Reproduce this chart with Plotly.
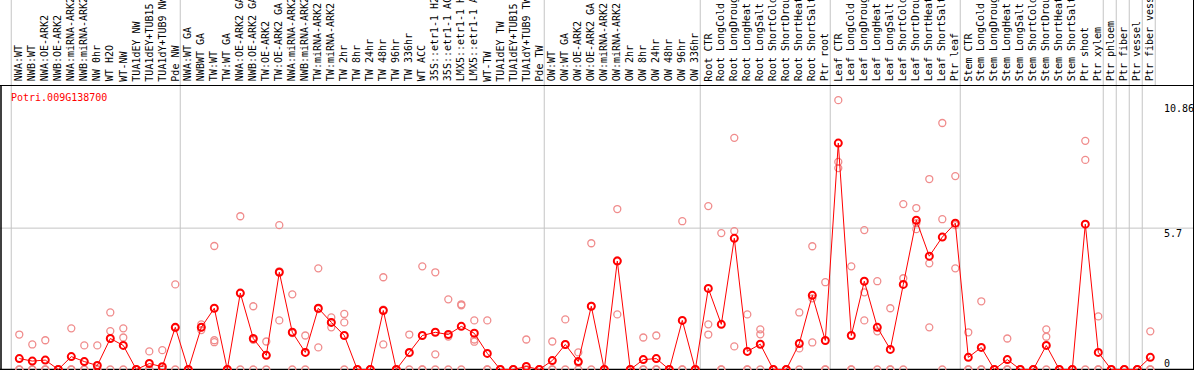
import plotly.graph_objects as go

W, H = 1194, 370

gene = "Potri.009G138700"

categories = [
    "NWA:WT", "NWB:WT", "NWA:OE-ARK2", "NWB:OE-ARK2", "NWA:miRNA-ARK2", "NWB:miRNA-ARK2",
    "NW 0hr", "WT H2O", "WT-NW", "TUA1dEY NW", "TUA1dEY+TUB15 NW", "TUA1dY+TUB9 NW", "Pde NW",
    "NWA:WT GA", "NWBWT GA", "TW:WT", "TW:WT GA", "NWA:OE-ARK2 GA", "NWB:OE-ARK2 GA",
    "TW:OE-ARK2", "TW:OE-ARK2 GA", "NWA:miRNA-ARK2", "NWB:miRNA-ARK2", "TW:miRNA-ARK2",
    "TW:miRNA-ARK2", "TW 2hr", "TW 8hr", "TW 24hr", "TW 48hr", "TW 96hr", "TW 336hr",
    "WT ACC", "35S::etr1-1 H2O", "35S::etr1-1 ACC", "LMX5::etr1-1 H2O", "LMX5::etr1-1 ACC",
    "WT-TW", "TUA1dEY TW", "TUA1dEY+TUB15 TW", "TUA1dY+TUB9 TW", "Pde TW",
    "OW:WT", "OW:WT GA", "OW:OE-ARK2", "OW:OE-ARK2 GA", "OW:miRNA-ARK2", "OW:miRNA-ARK2",
    "OW 2hr", "OW 8hr", "OW 24hr", "OW 48hr", "OW 96hr", "OW 336hr",
    "Root CTR", "Root LongCold", "Root LongDrought", "Root LongHeat", "Root LongSalt",
    "Root ShortCold", "Root ShortDrought", "Root ShortHeat", "Root ShortSalt", "Ptr root",
    "Leaf CTR", "Leaf LongCold", "Leaf LongDrought", "Leaf LongHeat", "Leaf LongSalt",
    "Leaf ShortCold", "Leaf ShortDrought", "Leaf ShortHeat", "Leaf ShortSalt", "Ptr leaf",
    "Stem CTR", "Stem LongCold", "Stem LongDrought", "Stem LongHeat", "Stem LongSalt",
    "Stem ShortCold", "Stem ShortDrought", "Stem ShortHeat", "Stem ShortSalt", "Ptr shoot",
    "Ptr xylem", "Ptr phloem", "Ptr fiber", "Ptr vessel", "Ptr fiber vessel",
]

mean_values = [
    0.44, 0.34, 0.38, 0, 0.52, 0.32, 0.16, 1.25, 0.97, 0, 0.24, 0.11, 1.70,
    0, 1.70, 2.47, 0, 3.08, 1.25, 0.57, 3.92, 1.50, 0.69, 2.47, 1.90, 1.37, 0, 0,
    2.38, 0, 0.69, 1.37, 1.50, 1.41, 1.74, 1.46, 0.65, 0, 0, 0.12, 0,
    0.36, 1.01, 0.32, 2.55, 0, 4.37, 0, 0.40, 0.44, 0, 1.98, 0,
    3.27, 1.82, 5.29, 0.73, 1.02, 0, 0, 1.05, 2.99, 1.17,
    9.13, 1.37, 3.56, 1.70, 0.81, 3.43, 6.02, 4.57, 5.34, 5.90,
    0.49, 0.89, 0, 0.40, 0, 0, 0.97, 0, 0, 5.86, 0.69, 0, 0, 0, 0.49,
]

replicates = [
    [1.41, 0, 0], [1.01, 0, 0], [1.18, 0, 0], [0, 0, 0], [1.66, 0, 0], [0.97, 0, 0],
    [0.97, 0, 0], [2.30, 1.55, 0], [1.66, 1.29, 0], [0, 0, 0], [0.73, 0, 0], [0.78, 0, 0],
    [3.43, 1.67, 0],
    [0, 0, 0], [1.82, 1.70, 1.59], [4.98, 1.18, 1.10], [0, 0, 0], [6.18, 3.06, 0],
    [2.55, 1.20, 0], [1.13, 0.58, 0], [5.82, 1.98, 3.96], [3.03, 1.47, 0], [1.37, 0.70, 0],
    [4.08, 0.89, 2.44], [2.10, 1.70, 1.90], [2.24, 1.90, 0], [0, 0, 0], [0, 0, 0],
    [3.72, 1.01, 2.41], [0, 0, 0], [1.41, 0.66, 0], [4.16, 0, 0], [3.92, 0.61, 0],
    [2.83, 1.33, 0], [2.59, 2.63, 0], [1.98, 1.21, 1.12], [1.98, 0, 0], [0, 0, 0],
    [0, 0, 0], [1.21, 0, 0], [0, 0, 0],
    [1.13, 0, 0], [2.02, 1.01, 0], [0.69, 0.27, 0], [5.09, 2.56, 0], [0, 0, 0],
    [6.47, 2.22, 4.40], [0, 0, 0], [1.29, 0, 0], [1.37, 0, 0], [0, 0, 0], [5.98, 0, 0],
    [0, 0, 0],
    [6.59, 1.82, 1.41], [5.50, 0, 0], [9.34, 5.58, 0.93], [2.22, 0, 0], [1.62, 1.42, 0],
    [0, 0, 0], [0, 0, 0], [2.30, 0.85, 0], [4.97, 2.87, 1.09], [3.52, 0, 0],
    [10.86, 8.37, 8.12], [4.16, 0, 0], [5.62, 3.11, 1.98], [3.56, 1.54, 0], [2.47, 0, 0],
    [6.67, 3.68, 0], [6.51, 5.66, 5.90], [7.68, 4.28, 1.70], [9.94, 6.06, 0], [7.80, 4.08, 5.82],
    [1.50, 0, 0], [2.75, 0, 0], [0, 0, 0], [1.25, 0, 0], [0, 0, 0], [0, 0, 0],
    [1.62, 1.32, 0], [0, 0, 0], [0, 0, 0], [9.22, 8.45, 0], [2.14, 0, 0],
    [0, 0, 0], [0, 0, 0], [0, 0, 0], [1.54, 0, 0],
]

group_starts = [0, 13, 41, 53, 63, 73, 84, 85, 86, 87]
y_ticks = [0, 5.7, 10.86]
y_tick_labels = ["0", "5.7", "10.86"]

# ---- geometry helpers (pixel -> data/paper) ----
X0, DX = 19.3, 13.0          # pixel x of first category, spacing
Y0, DY = 369.5, 24.8         # pixel y of value 0, pixels per unit
x_range = [-X0 / DX, (W - X0) / DX]
y_range = [(Y0 - H) / DY, Y0 / DY]


def py2paper(py):
    return 1 - py / H


def px2paper(px):
    return px / W


xs = list(range(len(categories)))

fig = go.Figure()

rx, ry = [], []
for i, reps in enumerate(replicates):
    for v in reps:
        rx.append(xs[i])
        ry.append(v)

fig.add_trace(go.Scatter(
    x=rx, y=ry, mode="markers",
    marker=dict(symbol="circle-open", size=7, color="rgb(240,140,140)",
                line=dict(width=1.3, color="rgb(240,140,140)")),
    hoverinfo="skip", showlegend=False,
))

fig.add_trace(go.Scatter(
    x=xs, y=mean_values, mode="lines+markers",
    line=dict(color="red", width=1),
    marker=dict(symbol="circle-open", size=7, color="red",
                line=dict(width=2, color="red")),
    showlegend=False,
))

shapes = []
GRID = "#c4c4c4"
for g in group_starts:
    shapes.append(dict(type="line", xref="x", yref="paper", x0=g - 0.62, x1=g - 0.62,
                       y0=0, y1=1, line=dict(color=GRID, width=1), layer="below"))
shapes.append(dict(type="line", xref="x", yref="paper", x0=len(categories) - 0.62,
                   x1=len(categories) - 0.62, y0=py2paper(85), y1=1,
                   line=dict(color=GRID, width=1), layer="below"))
shapes.append(dict(type="line", xref="paper", yref="y", x0=0, x1=1, y0=5.7, y1=5.7,
                   line=dict(color=GRID, width=1), layer="below"))
# black frame lines
shapes.append(dict(type="line", xref="paper", yref="paper", x0=0, x1=1,
                   y0=py2paper(85.5), y1=py2paper(85.5), line=dict(color="black", width=1.2)))
shapes.append(dict(type="line", xref="paper", yref="paper", x0=px2paper(1), x1=px2paper(1),
                   y0=0, y1=py2paper(85.5), line=dict(color="black", width=1.5)))
shapes.append(dict(type="line", xref="paper", yref="paper", x0=0, x1=1,
                   y0=py2paper(369.5), y1=py2paper(369.5), line=dict(color="black", width=1.5),
                   layer="below"))
shapes.append(dict(type="line", xref="paper", yref="paper", x0=px2paper(1193.5),
                   x1=px2paper(1193.5), y0=0, y1=1, line=dict(color="black", width=1)))

annotations = []
MONO = "DejaVu Sans Mono"
for i, lab in enumerate(categories):
    annotations.append(dict(
        x=xs[i] - 0.05, y=py2paper(83.5), xref="x", yref="paper", text=lab,
        textangle=-90, showarrow=False, xanchor="center", yanchor="bottom",
        font=dict(family=MONO, size=10, color="black"),
    ))

annotations.append(dict(
    x=px2paper(9), y=py2paper(97.5), xref="paper", yref="paper", text=gene,
    showarrow=False, xanchor="left", yanchor="middle",
    font=dict(family=MONO, size=10, color="red"),
))

tick_py = [362, 232.5, 107]
for lab, tp in zip(y_tick_labels, tick_py):
    annotations.append(dict(
        x=px2paper(1161.5), y=py2paper(tp + 1), xref="paper", yref="paper", text=lab,
        showarrow=False, xanchor="left", yanchor="middle",
        font=dict(family=MONO, size=10, color="black"),
    ))

fig.update_layout(
    width=W, height=H,
    margin=dict(l=0, r=0, t=0, b=0, pad=0),
    paper_bgcolor="white", plot_bgcolor="white",
    xaxis=dict(range=x_range, visible=False, showgrid=False, zeroline=False, domain=[0, 1]),
    yaxis=dict(range=y_range, visible=False, showgrid=False, zeroline=False, domain=[0, 1]),
    shapes=shapes, annotations=annotations,
)

fig.write_html(
    "out.html",
    config={"displayModeBar": False},
    post_script="document.body.style.margin='0px';document.body.style.overflow='hidden';",
)
